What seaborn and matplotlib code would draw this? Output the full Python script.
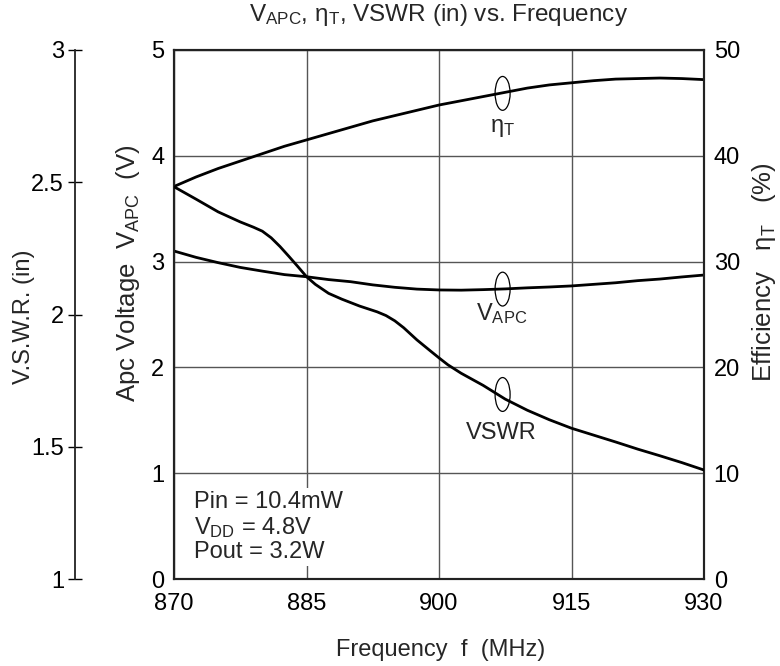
import matplotlib
matplotlib.use("Agg")
import matplotlib.pyplot as plt
import seaborn as sns
import pandas as pd
from matplotlib.patches import Ellipse

# ---- data ----
freq = [870, 872.5, 875, 877.5, 880, 882.5, 885, 887.5, 890, 892.5, 895, 897.5,
        900, 902.5, 905, 907.5, 910, 912.5, 915, 917.5, 920, 922.5, 925, 927.5, 930]
efficiency = [37.1, 38.0, 38.8, 39.5, 40.2, 40.9, 41.5, 42.1, 42.7, 43.3, 43.8, 44.3,
              44.8, 45.2, 45.6, 46.0, 46.4, 46.7, 46.9, 47.1, 47.25, 47.3, 47.35, 47.3, 47.2]
vapc = [3.10, 3.04, 2.99, 2.945, 2.91, 2.877, 2.857, 2.83, 2.81, 2.78, 2.757, 2.74,
        2.732, 2.73, 2.735, 2.742, 2.752, 2.76, 2.77, 2.785, 2.80, 2.82, 2.835, 2.855, 2.873]

freq_vswr = [870, 872.5, 875, 877.5, 879, 880, 881, 882, 883, 884, 885, 886, 887.5,
             889, 891, 893, 894, 895, 896, 897.5, 899, 900, 901, 902.5, 905, 907.5,
             910, 912.5, 915, 917.5, 920, 922.5, 925, 927.5, 930]
vswr = [2.483, 2.436, 2.388, 2.350, 2.330, 2.315, 2.290, 2.257, 2.22, 2.182, 2.143,
        2.114, 2.08, 2.058, 2.032, 2.01, 1.996, 1.976, 1.95, 1.904, 1.863, 1.836,
        1.810, 1.778, 1.732, 1.68, 1.638, 1.602, 1.57, 1.544, 1.518, 1.491, 1.466,
        1.44, 1.412]

x_ticks = [870, 885, 900, 915, 930]
v_ticks = [0, 1, 2, 3, 4, 5]
eff_ticks = [0, 10, 20, 30, 40, 50]
vswr_ticks = [1, 1.5, 2, 2.5, 3]
vswr_labels = ["1", "1.5", "2", "2.5", "3"]

sns.set_style("white")
plt.rcParams["font.family"] = ["Liberation Sans", "DejaVu Sans"]
plt.rcParams["mathtext.fontset"] = "custom"
plt.rcParams["mathtext.rm"] = "Liberation Sans"
plt.rcParams["mathtext.it"] = "Liberation Sans:italic"
plt.rcParams["mathtext.bf"] = "Liberation Sans:bold"
plt.rcParams["mathtext.default"] = "regular"

FS = 17
FSL = 18.5
fig = plt.figure(figsize=(7.8, 6.66), dpi=100)
ax = fig.add_axes([174 / 780, 1 - 579 / 666, 530 / 780, 529 / 666])
ax2 = ax.twinx()
ax3 = ax.twinx()

df = pd.DataFrame({"freq": freq, "vapc": vapc, "eff": efficiency})
df_vswr = pd.DataFrame({"freq": freq_vswr, "vswr": vswr})
sns.lineplot(data=df, x="freq", y="vapc", ax=ax, color="black", lw=2.0)
sns.lineplot(data=df, x="freq", y="eff", ax=ax2, color="black", lw=2.0)
sns.lineplot(data=df_vswr, x="freq", y="vswr", ax=ax3, color="black", lw=2.0)

# main axis
ax.set_xlim(870, 930)
ax.set_ylim(0, 5)
ax.set_xticks(x_ticks)
ax.set_yticks(v_ticks)
ax.grid(True, color="#555555", lw=1.0)
ax.tick_params(axis="both", length=0, labelsize=FS, colors="black")
ax.tick_params(axis="x", pad=10)
ax.tick_params(axis="y", pad=7)
for s in ax.spines.values():
    s.set_color("#222222")
    s.set_linewidth(1.5)
ax.set_xlabel("Frequency  f  (MHz)", fontsize=FS, va="center", ha="center")
ax.xaxis.set_label_coords((441 - 174) / 530, (579 - 650) / 529)
ax.set_ylabel("Apc Voltage  V$_{APC}$  (V)", fontsize=FSL, va="center", ha="center")
ax.yaxis.set_label_coords((127.5 - 174) / 530, (579 - 273.5) / 529)

# right efficiency axis
ax2.set_ylim(0, 50)
ax2.set_yticks(eff_ticks)
ax2.tick_params(axis="y", length=0, labelsize=FS, pad=7, colors="black")
ax2.grid(False)
for s in ax2.spines.values():
    s.set_color("#222222")
    s.set_linewidth(1.5)
ax2.set_ylabel("Efficiency   η$_T$   (%)", fontsize=FSL, va="center", ha="center",
               rotation=90)
ax2.yaxis.set_label_coords((764 - 174) / 530, (579 - 272) / 529)

# left VSWR axis
ax3.set_ylim(1, 3)
ax3.grid(False)
for k in ["right", "top", "bottom"]:
    ax3.spines[k].set_visible(False)
ax3.spines["left"].set_visible(True)
ax3.spines["left"].set_position(("axes", (75 - 174) / 530))
ax3.spines["left"].set_color("#222222")
ax3.spines["left"].set_linewidth(1.3)
ax3.yaxis.set_ticks_position("left")
ax3.yaxis.set_label_position("left")
ax3.set_yticks(vswr_ticks)
ax3.set_yticklabels(vswr_labels)
ax3.tick_params(axis="y", direction="inout", length=10, width=1.0, labelsize=FS, pad=3,
                colors="black")
ax3.set_ylabel("V.S.W.R. (in)", fontsize=FS, va="center", ha="center")
ax3.yaxis.set_label_coords((24 - 174) / 530, (579 - 317) / 529)

# curve markers and labels
for yc in [4.59, 2.74, 1.744]:
    ax.add_patch(Ellipse((907.2, yc), width=1.7, height=0.32, fill=False, lw=0.9,
                         ec="black", zorder=5))
ax.text(907.2, 4.26, "η$_T$", fontsize=FS, ha="center", va="center")
ax.text(907.1, 2.51, "V$_{APC}$", fontsize=FS, ha="center", va="center")
ax.text(907.1, 1.38, "VSWR", fontsize=FS, ha="center", va="center")

ax.text(872.24, 0.49, "Pin = 10.4mW\nV$_{DD}$ = 4.8V\nPout = 3.2W", fontsize=FS,
        ha="left", va="center", linespacing=1.1,
        bbox=dict(facecolor="white", edgecolor="none", pad=2), zorder=4)

fig.text(439 / 780, 1 - 15 / 666, "V$_{APC}$, η$_T$, VSWR (in) vs. Frequency",
         fontsize=17.5, ha="center", va="center")

fig.savefig("out.png", dpi=100)
